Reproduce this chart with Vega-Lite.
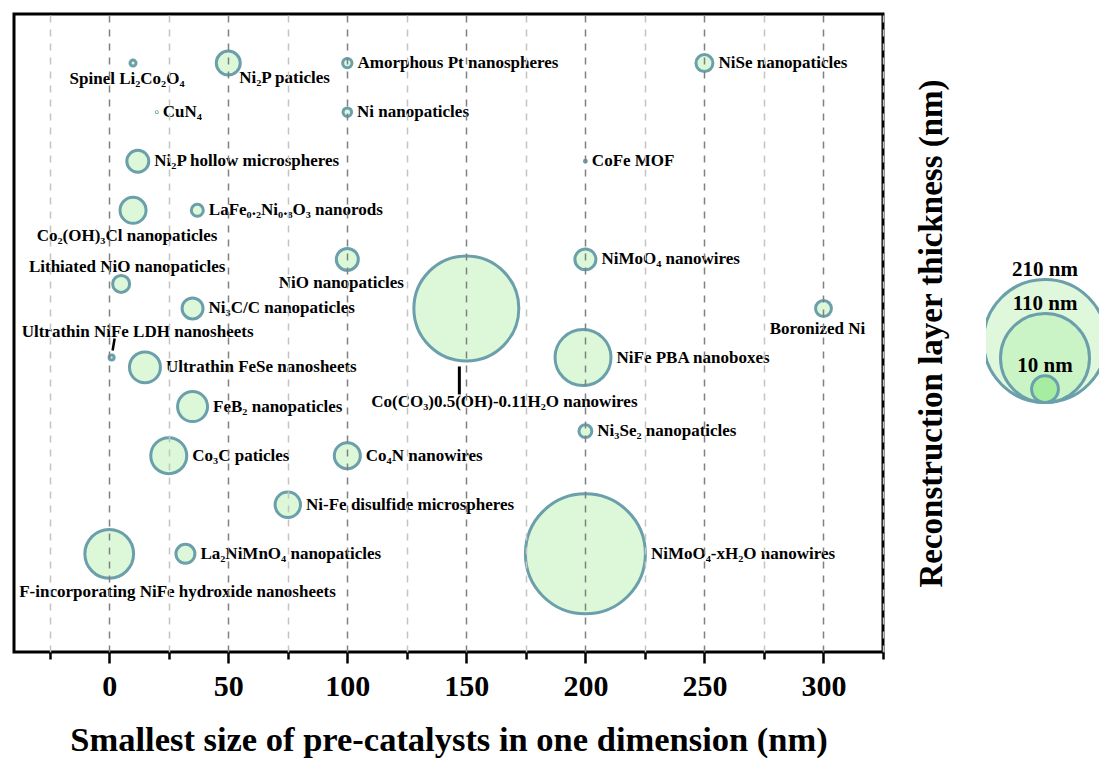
{
  "$schema": "https://vega.github.io/schema/vega-lite/v6.json",
  "padding": {"left": 12, "top": 12, "right": 0, "bottom": 0},
  "spacing": 36,
  "config": {
    "font": "Liberation Serif",
    "view": {"stroke": null},
    "text": {"font": "Liberation Serif", "fontWeight": "bold", "fontSize": 17, "fill": "black"},
    "axis": {"labelFont": "Liberation Serif", "titleFont": "Liberation Serif", "labelColor": "black", "titleColor": "black", "labelFontWeight": "bold", "titleFontWeight": "bold"}
  },
  "hconcat": [
    {
      "width": 869,
      "height": 638,
      "view": {"stroke": "black", "strokeWidth": 3},
      "data": {
        "values": [
          {"name": "Spinel Li₂Co₂O₄", "x": 10, "row": 0, "t": 0.5, "pos": "b"},
          {"name": "Ni₂P paticles", "x": 50, "row": 0, "t": 8, "pos": "br"},
          {"name": "Amorphous Pt nanospheres", "x": 100, "row": 0, "t": 1.2, "pos": "r"},
          {"name": "NiSe nanopaticles", "x": 250, "row": 0, "t": 4, "pos": "r"},
          {"name": "CuN₄", "x": 20, "row": 1, "t": 0.01, "pos": "r"},
          {"name": "Ni nanopaticles", "x": 100, "row": 1, "t": 1, "pos": "r"},
          {"name": "Ni₂P hollow microspheres", "x": 12, "row": 2, "t": 6.7, "pos": "r"},
          {"name": "CoFe MOF", "x": 200, "row": 2, "t": 0.05, "pos": "r"},
          {"name": "Co₂(OH)₃Cl nanopaticles", "x": 10, "row": 3, "t": 9.4, "pos": "b"},
          {"name": "LaFe₀.₂Ni₀.₈O₃ nanorods", "x": 37, "row": 3, "t": 2, "pos": "r"},
          {"name": "NiO nanopaticles", "x": 100, "row": 4, "t": 6.7, "pos": "b"},
          {"name": "NiMoO₄ nanowires", "x": 200, "row": 4, "t": 6.1, "pos": "r"},
          {"name": "Lithiated NiO nanopaticles", "x": 5, "row": 4.5, "t": 4, "pos": "a"},
          {"name": "Co(CO₃)0.5(OH)-0.11H₂O nanowires", "x": 150, "row": 5, "t": 153, "pos": "bL"},
          {"name": "Ni₃C/C nanopaticles", "x": 35, "row": 5, "t": 6.1, "pos": "r"},
          {"name": "Boronized Ni", "x": 300, "row": 5, "t": 3.5, "pos": "b"},
          {"name": "Ultrathin NiFe LDH nanosheets", "x": 1, "row": 6, "t": 0.35, "pos": "aL"},
          {"name": "Ultrathin FeSe nanosheets", "x": 15, "row": 6.2, "t": 13.3, "pos": "r"},
          {"name": "NiFe PBA nanoboxes", "x": 199, "row": 6, "t": 43.5, "pos": "r"},
          {"name": "FeB₂ nanopaticles", "x": 35, "row": 7, "t": 12.5, "pos": "r"},
          {"name": "Ni₃Se₂ nanopaticles", "x": 200, "row": 7.5, "t": 2.3, "pos": "r"},
          {"name": "Co₃C paticles", "x": 25, "row": 8, "t": 18, "pos": "r"},
          {"name": "Co₄N nanowires", "x": 100, "row": 8, "t": 9.4, "pos": "r"},
          {"name": "Ni-Fe disulfide microspheres", "x": 75, "row": 9, "t": 9, "pos": "r"},
          {"name": "F-incorporating NiFe hydroxide nanosheets", "x": 0, "row": 10, "t": 33, "pos": "bw"},
          {"name": "La₂NiMnO₄ nanopaticles", "x": 32, "row": 10, "t": 5, "pos": "r"},
          {"name": "NiMoO₄-xH₂O nanowires", "x": 200, "row": 10, "t": 200, "pos": "r"}
        ]
      },
      "transform": [{"calculate": "4.245 * sqrt(datum.t) + 1.5", "as": "r"}],
      "encoding": {
        "x": {
          "field": "x",
          "type": "quantitative",
          "scale": {"domain": [-40, 325], "nice": false, "zero": false},
          "axis": {
            "orient": "bottom",
            "values": [-25, 0, 25, 50, 75, 100, 125, 150, 175, 200, 225, 250, 275, 300, 325],
            "format": "d",
            "labelExpr": "datum.value % 50 === 0 && datum.value >= 0 && datum.value <= 300 ? datum.label : ''",
            "grid": true,
            "gridDash": [7, 7],
            "gridWidth": 1.5,
            "gridColor": {"condition": {"test": "datum.value % 50 === 0", "value": "#808080"}, "value": "#c4c4c4"},
            "domain": false,
            "tickColor": "black",
            "tickWidth": 2.5,
            "tickSize": {"condition": {"test": "datum.value % 50 === 0", "value": 11}, "value": 7},
            "labelFontSize": 30,
            "labelPadding": 8,
            "title": "Smallest size of pre-catalysts in one dimension (nm)",
            "titleFontSize": 34.5,
            "titlePadding": 22,
            "zindex": 1
          }
        },
        "y": {
          "field": "row",
          "type": "quantitative",
          "scale": {"domain": [-1, 12], "reverse": true, "nice": false, "zero": false},
          "axis": {
            "orient": "right",
            "ticks": false,
            "labels": false,
            "domain": false,
            "grid": false,
            "title": "Reconstruction layer thickness (nm)",
            "titleFontSize": 33,
            "titleAngle": 270,
            "titleBaseline": "top",
            "titlePadding": 32
          }
        }
      },
      "layer": [
        {
          "mark": {"type": "point", "shape": "circle", "filled": true, "fill": "#dcf8d8", "stroke": "#6a9fab", "strokeWidth": 3, "opacity": 1},
          "encoding": {
            "size": {"field": "t", "type": "quantitative", "scale": {"domain": [0, 210], "range": [0, 15120]}, "legend": null}
          }
        },
        {
          "transform": [{"filter": "datum.pos === 'r'"}, {"calculate": "datum.x + (datum.r + 4) / 2.38", "as": "lx"}],
          "mark": {"type": "text", "align": "left", "baseline": "middle"},
          "encoding": {"x": {"field": "lx", "type": "quantitative"}, "text": {"field": "name"}}
        },
        {
          "transform": [{"filter": "datum.pos === 'b'"}, {"calculate": "datum.row + (datum.r + 11) / 49.08", "as": "ly"}],
          "mark": {"type": "text", "align": "center", "baseline": "middle", "dx": -6},
          "encoding": {"y": {"field": "ly", "type": "quantitative"}, "text": {"field": "name"}}
        },
        {
          "transform": [{"filter": "datum.pos === 'br'"}],
          "mark": {"type": "text", "align": "left", "baseline": "middle", "dx": 11, "dy": 15},
          "encoding": {"text": {"field": "name"}}
        },
        {
          "transform": [{"filter": "datum.pos === 'a'"}],
          "mark": {"type": "text", "align": "center", "baseline": "middle", "dx": 6, "dy": -17},
          "encoding": {"text": {"field": "name"}}
        },
        {
          "transform": [{"filter": "datum.pos === 'aL'"}],
          "mark": {"type": "text", "align": "center", "baseline": "middle", "dx": 26, "dy": -26},
          "encoding": {"text": {"field": "name"}}
        },
        {
          "transform": [{"filter": "datum.pos === 'bL'"}],
          "mark": {"type": "text", "align": "center", "baseline": "middle", "dx": 38, "dy": 94},
          "encoding": {"text": {"field": "name"}}
        },
        {
          "transform": [{"filter": "datum.pos === 'bw'"}],
          "mark": {"type": "text", "align": "left", "baseline": "middle", "dx": -90, "dy": 38},
          "encoding": {"text": {"field": "name"}}
        },
        {
          "transform": [{"filter": "datum.pos === 'aL'"}],
          "mark": {"type": "rule", "color": "black", "strokeWidth": 2.5, "xOffset": 3, "x2Offset": 1, "yOffset": -19, "y2Offset": -7},
          "encoding": {"x2": {"field": "x"}, "y2": {"field": "row"}}
        },
        {
          "transform": [{"filter": "datum.pos === 'bL'"}],
          "mark": {"type": "rule", "color": "black", "strokeWidth": 3, "xOffset": -7, "x2Offset": -7, "yOffset": 58, "y2Offset": 86},
          "encoding": {"x2": {"field": "x"}, "y2": {"field": "row"}}
        }
      ]
    },
    {
      "width": 118,
      "height": 638,
      "view": {"stroke": null},
      "data": {
        "values": [
          {"t": 210, "label": "210 nm"},
          {"t": 110, "label": "110 nm"},
          {"t": 10, "label": "10 nm"}
        ]
      },
      "layer": [
        {
          "mark": {"type": "point", "shape": "circle", "filled": true, "stroke": "#6a9fab", "strokeWidth": 3, "opacity": 1, "clip": true},
          "encoding": {
            "y": {"field": "t", "type": "quantitative", "scale": {"type": "sqrt", "domain": [0, 210], "range": [388.5, 327], "zero": true, "nice": false}, "axis": null},
            "size": {"field": "t", "type": "quantitative", "scale": {"domain": [0, 210], "range": [0, 15120]}, "legend": null},
            "fill": {"field": "t", "type": "ordinal", "scale": {"domain": [210, 110, 10], "range": ["#dff8db", "#cbf4c6", "#a6eda1"]}, "legend": null}
          }
        },
        {
          "mark": {"type": "text", "fontSize": 21, "baseline": "alphabetic", "align": "center"},
          "encoding": {
            "y": {"field": "t", "type": "quantitative", "scale": {"type": "sqrt", "domain": [0, 210], "range": [385, 262], "zero": true, "nice": false}, "axis": null},
            "text": {"field": "label"}
          }
        }
      ],
      "resolve": {"scale": {"y": "independent"}}
    }
  ]
}
